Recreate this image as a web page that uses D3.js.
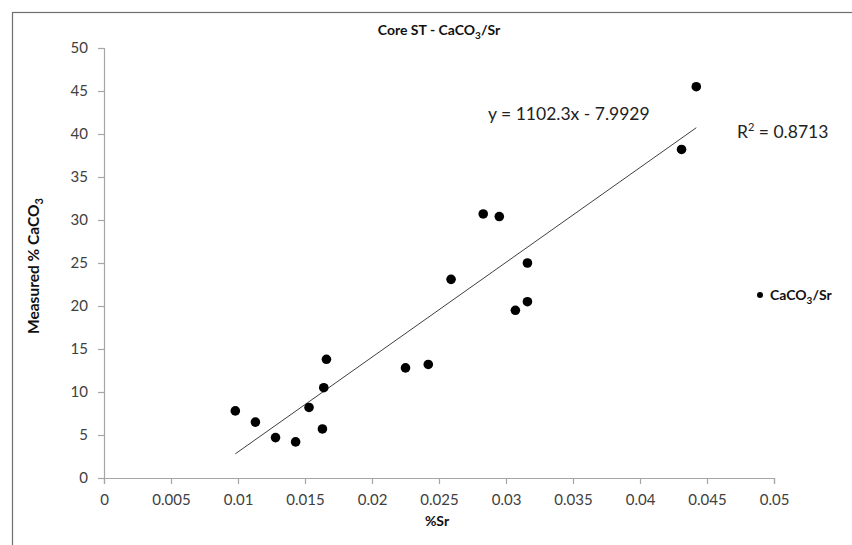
<!DOCTYPE html>
<html>
<head>
<meta charset="utf-8">
<script src="https://cdn.jsdelivr.net/npm/d3@7"></script>
<style>
  body { margin: 0; background: #fff; }
  text { font-family: Lato, "Open Sans", sans-serif; }
</style>
</head>
<body>
<div id="myChart"></div>
<script>
// data: %Sr vs measured % CaCO3
let srValues = [0.0098, 0.0113, 0.0128, 0.0143, 0.0153, 0.0163, 0.0164, 0.0166,
                0.0225, 0.0242, 0.0259, 0.0283, 0.0295, 0.0307, 0.0316, 0.0316,
                0.0431, 0.0442];
let caco3Values = [7.8, 6.5, 4.7, 4.2, 8.2, 5.7, 10.5, 13.8,
                   12.8, 13.2, 23.1, 30.7, 30.4, 19.5, 20.5, 25.0,
                   38.2, 45.5];
let xTicks = [0, 0.005, 0.01, 0.015, 0.02, 0.025, 0.03, 0.035, 0.04, 0.045, 0.05];
let yTicks = [0, 5, 10, 15, 20, 25, 30, 35, 40, 45, 50];
let slope = 1102.3, intercept = -7.9929, rSquared = 0.8713;

// set the dimensions and margins of the graph
let W = 852, H = 545;
let margin = {top: 48, right: 78, bottom: 67, left: 104},
    width = W - margin.left - margin.right,
    height = H - margin.top - margin.bottom;

let root = d3.select("#myChart")
    .append("svg")
        .attr("width", W)
        .attr("height", H);

// chart frame (cut off at right and bottom like the original)
root.append("rect")
    .attr("x", 12.5).attr("y", 12.5)
    .attr("width", W).attr("height", H)
    .attr("fill", "none")
    .attr("stroke", "#6e6e6e")
    .attr("stroke-width", 1.2);

let svg = root.append("g")
    .attr("transform", "translate(" + margin.left + "," + margin.top + ")");

let x = d3.scaleLinear()
    .domain([0, 0.05])
    .range([0, width]);

let y = d3.scaleLinear()
    .domain([0, 50])
    .range([height, 0]);

// X axis
let xAxis = svg.append("g")
    .attr("transform", "translate(0," + height + ")")
    .call(d3.axisBottom(x).tickValues(xTicks).tickSize(6).tickPadding(10)
        .tickFormat(d => d === 0 ? "0" : String(+d.toFixed(3))));

// Y axis
let yAxis = svg.append("g")
    .call(d3.axisLeft(y).tickValues(yTicks).tickSize(6).tickPadding(10));

[xAxis, yAxis].forEach(a => {
    a.select(".domain").attr("stroke", "#a6a6a6").attr("stroke-width", 1.2);
    a.selectAll(".tick line").attr("stroke", "#a6a6a6").attr("stroke-width", 1.2);
    a.selectAll(".tick text").attr("fill", "#404040").style("font-size", "15px");
});

// trend line over the data range
let xMin = d3.min(srValues), xMax = d3.max(srValues);
svg.append("line")
    .attr("x1", x(xMin)).attr("y1", y(slope * xMin + intercept))
    .attr("x2", x(xMax)).attr("y2", y(slope * xMax + intercept))
    .attr("stroke", "#404040")
    .attr("stroke-width", 1);

// Add dots
svg.append("g")
    .selectAll("circle")
    .data(srValues)
    .enter()
    .append("circle")
        .attr("cx", d => x(d))
        .attr("cy", (d, i) => y(caco3Values[i]))
        .attr("r", 4.8)
        .style("fill", "#000");

// equation and R²
root.append("text")
    .attr("x", 488).attr("y", 120)
    .style("font-size", "17.5px").attr("fill", "#222")
    .text("y = " + slope + "x - " + Math.abs(intercept));

let r2 = root.append("text")
    .attr("x", 737).attr("y", 138)
    .style("font-size", "17.5px").attr("fill", "#222");
r2.append("tspan").text("R");
r2.append("tspan").attr("dy", -7).style("font-size", "11px").text("2");
r2.append("tspan").attr("dy", 7).text(" = " + rSquared);

// title
let title = root.append("text")
    .attr("x", 439).attr("y", 35)
    .attr("text-anchor", "middle")
    .style("font-size", "14px").style("font-weight", "bold")
    .attr("fill", "#111");
title.append("tspan").text("Core ST - CaCO");
title.append("tspan").attr("dy", 4).style("font-size", "10px").text("3");
title.append("tspan").attr("dy", -4).text("/Sr");

// axis titles
root.append("text")
    .attr("x", 437).attr("y", 526)
    .attr("text-anchor", "middle")
    .style("font-size", "14px").style("font-weight", "bold")
    .attr("fill", "#111")
    .text("%Sr");

let yl = root.append("text")
    .attr("transform", "translate(39," + 266 + ") rotate(-90)")
    .attr("text-anchor", "middle")
    .style("font-size", "15.5px").style("font-weight", "bold")
    .attr("fill", "#111");
yl.append("tspan").text("Measured % CaCO");
yl.append("tspan").attr("dy", 4).style("font-size", "11px").text("3");

// legend
root.append("circle")
    .attr("cx", 760).attr("cy", 295).attr("r", 3)
    .style("fill", "#000");
let lg = root.append("text")
    .attr("x", 770).attr("y", 300)
    .style("font-size", "14px").style("font-weight", "bold")
    .attr("fill", "#111");
lg.append("tspan").text("CaCO");
lg.append("tspan").attr("dy", 4).style("font-size", "10px").text("3");
lg.append("tspan").attr("dy", -4).text("/Sr");
</script>
</body>
</html>
